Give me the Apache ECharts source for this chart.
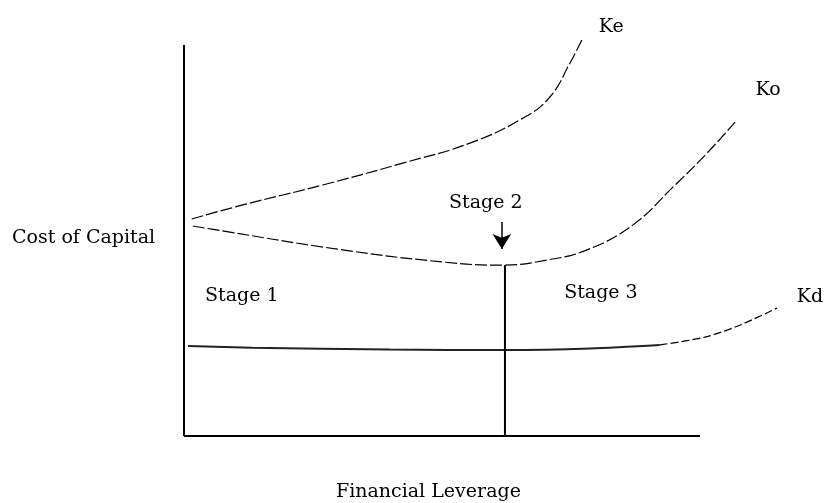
<!DOCTYPE html>
<html>
<head>
<meta charset="utf-8">
<script src="https://cdn.jsdelivr.net/npm/echarts@6/dist/echarts.min.js"></script>
<style>
html,body{margin:0;padding:0;background:#fff;}
#c{width:827px;height:503px;}
</style>
</head>
<body>
<div id="c"></div>
<script>
// Curves (x = financial leverage units, y = cost of capital units)
const keCurve = [[0.15,5.55],[1.14,5.91],[2.69,6.42],[4.24,6.98],[5.54,7.49],[6.57,8.13],[7.09,8.67],[7.48,9.54],[7.71,10.13]];
const koCurve = [[0.17,5.37],[0.54,5.29],[2.97,4.78],[5.02,4.45],[6.18,4.37],[7.03,4.50],[7.81,4.76],[8.70,5.40],[9.48,6.37],[10.14,7.24],[10.68,8.03]];
const kdSolid = [[0.08,2.30],[1.32,2.26],[3.99,2.21],[6.22,2.20],[7.87,2.24],[9.22,2.33]];
const kdDashed = [[9.22,2.33],[10.10,2.53],[10.78,2.84],[11.49,3.27]];
const stageLine = [[6.22,0],[6.22,4.37]];
const xAxisLine = [[0,0],[10,0]];
const yAxisLine = [[0,0],[0,10]];
const arrowFrom = [6.16,5.47];
const arrowTo = [6.16,4.78];
const textLabels = [
  [8.28,10.46,'Ke'],
  [11.32,8.85,'Ko'],
  [12.13,3.55,'Kd'],
  [1.12,3.58,'Stage 1'],
  [5.85,5.96,'Stage 2'],
  [8.08,3.66,'Stage 3']
];
const yTitle = 'Cost of Capital';
const xTitle = 'Financial Leverage';

const FONT = 'DejaVu Serif';
const FS = 19;
const chart = echarts.init(document.getElementById('c'));
const axisCommon = {
  type:'value', min:0,
  axisLine:{show:false},
  axisTick:{show:false}, axisLabel:{show:false}, splitLine:{show:false}
};
chart.setOption({
  backgroundColor:'#fff',
  animation:false,
  grid:{left:184, right:3.16, top:5.9, bottom:67},
  xAxis:Object.assign({}, axisCommon, {max:12.4}),
  yAxis:Object.assign({}, axisCommon, {max:11}),
  graphic:[
    {type:'text', left:12, top:229, style:{text:yTitle, font:FS+'px "'+FONT+'"', fill:'#000'}},
    {type:'text', left:336, top:483, style:{text:xTitle, font:FS+'px "'+FONT+'"', fill:'#000'}}
  ],
  series:[
    {type:'line', data:xAxisLine, symbol:'none', clip:false, lineStyle:{color:'#000', width:2}},
    {type:'line', data:yAxisLine, symbol:'none', clip:false, lineStyle:{color:'#000', width:2}},
    {type:'line', data:keCurve, smooth:0.45, symbol:'none', clip:false,
     lineStyle:{color:'#000', width:1.2, type:[12,3]}},
    {type:'line', data:koCurve, smooth:0.45, symbol:'none', clip:false,
     lineStyle:{color:'#000', width:1.2, type:[12,3]}},
    {type:'line', data:kdSolid, smooth:0.3, symbol:'none', clip:false,
     lineStyle:{color:'#222', width:2}},
    {type:'line', data:kdDashed, smooth:0.3, symbol:'none', clip:false,
     lineStyle:{color:'#000', width:1.2, type:[8,3]}},
    {type:'line', data:stageLine, symbol:'none', clip:false,
     lineStyle:{color:'#000', width:2},
     markLine:{silent:true, symbol:['none','arrow'], symbolSize:[14,15],
       label:{show:false},
       lineStyle:{color:'#000', width:1.5, type:'solid'},
       data:[[{coord:arrowFrom},{coord:arrowTo}]]}},
    {type:'scatter', data:textLabels, symbolSize:1, clip:false,
     itemStyle:{color:'rgba(0,0,0,0)'},
     label:{show:true, position:'inside', formatter:p=>p.data[2],
       fontFamily:FONT, fontSize:FS, color:'#000', opacity:1,
       textBorderWidth:0, textBorderColor:'transparent'}}
  ]
});
</script>
</body>
</html>
